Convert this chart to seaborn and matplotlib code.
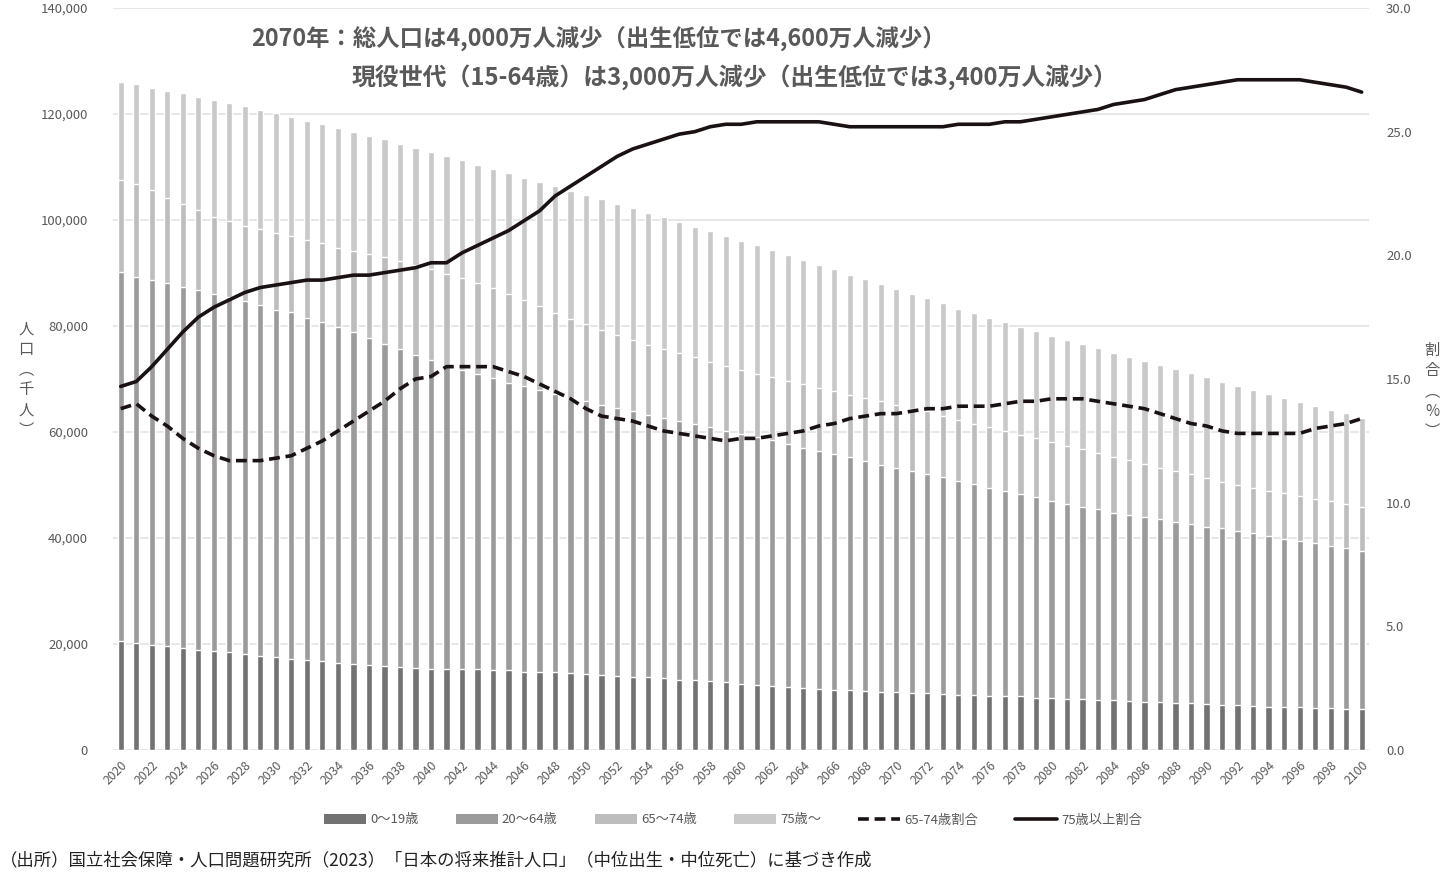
import numpy as np
import pandas as pd
import matplotlib
matplotlib.use("Agg")
import matplotlib.pyplot as plt
from matplotlib.patches import Patch
from matplotlib.lines import Line2D
from matplotlib.ticker import FuncFormatter
import seaborn as sns

# Data (thousand persons / %)
years = list(range(2020, 2101))

pop_0_19 = [20600, 20200, 19900, 19600, 19200, 18900, 18700, 18400, 18100, 17800,
            17500, 17200, 17000, 16700, 16500, 16200, 16000, 15800, 15600, 15500,
            15300, 15300, 15200, 15200, 15000, 15000, 14800, 14700, 14700, 14500,
            14300, 14200, 14000, 13800, 13700, 13500, 13300, 13200, 13000, 12800,
            12500, 12200, 12000, 11900, 11700, 11500, 11400, 11300, 11100, 10900,
            10900, 10800, 10700, 10600, 10400, 10300, 10200, 10100, 10100, 9900,
            9800, 9700, 9600, 9400, 9400, 9200, 9100, 9000, 8900, 8800,
            8700, 8500, 8400, 8300, 8200, 8100, 8100, 8000, 7900, 7800, 7700]

pop_20_64 = [69500, 69000, 68800, 68500, 68100, 67900, 67300, 67000, 66700, 66200,
             65600, 65400, 64600, 64000, 63400, 62600, 61800, 60900, 60000, 59000,
             58200, 57200, 56500, 55700, 55100, 54300, 53900, 53200, 52500, 51800,
             51500, 50900, 50500, 50200, 49500, 49200, 48800, 48300, 47900, 47400,
             47100, 46900, 46500, 45800, 45300, 44900, 44400, 43900, 43400, 42900,
             42400, 41800, 41400, 40900, 40400, 39800, 39300, 38800, 38200, 37800,
             37200, 36700, 36300, 36000, 35400, 35100, 34800, 34500, 34100, 33800,
             33400, 33300, 32900, 32600, 32200, 31800, 31300, 31000, 30600, 30300, 29900]

pop_65_74 = [17400, 17600, 17000, 16100, 15700, 15000, 14600, 14500, 14100, 14300,
             14400, 14300, 14600, 14900, 14900, 15400, 15800, 16300, 16700, 17000,
             17200, 17400, 17400, 17300, 17000, 16800, 16300, 15900, 15300, 15000,
             14500, 14100, 13800, 13400, 13300, 13000, 12800, 12600, 12400, 12300,
             12100, 11900, 11800, 11900, 12000, 11900, 11900, 11800, 12000, 12000,
             11800, 11800, 11800, 11600, 11500, 11400, 11400, 11300, 11200, 11100,
             11200, 11000, 10900, 10700, 10500, 10400, 10100, 9800, 9600, 9400,
             9300, 8800, 8700, 8500, 8500, 8500, 8500, 8400, 8500, 8300, 8300]

pop_75_over = [18600, 18800, 19300, 20200, 20900, 21500, 22000, 22200, 22600, 22500,
               22600, 22500, 22500, 22500, 22600, 22500, 22300, 22200, 22100, 22100,
               22200, 22200, 22200, 22200, 22500, 22700, 23000, 23400, 23900, 24200,
               24400, 24700, 24800, 24800, 24800, 24800, 24700, 24600, 24600, 24500,
               24400, 24200, 24000, 23800, 23500, 23200, 23000, 22700, 22300, 22100,
               21900, 21600, 21300, 21200, 21000, 21000, 20700, 20600, 20400, 20300,
               20000, 20000, 19800, 19700, 19700, 19500, 19400, 19300, 19300, 19100,
               18900, 18900, 18700, 18600, 18300, 18100, 17800, 17500, 17200, 17100, 16700]

share_65_74 = [13.8, 14.0, 13.5, 13.1, 12.6, 12.2, 11.9, 11.7, 11.7, 11.7,
               11.8, 11.9, 12.2, 12.5, 12.9, 13.3, 13.7, 14.1, 14.6, 15.0,
               15.1, 15.5, 15.5, 15.5, 15.5, 15.3, 15.1, 14.8, 14.5, 14.2,
               13.8, 13.5, 13.4, 13.3, 13.1, 12.9, 12.8, 12.7, 12.6, 12.5,
               12.6, 12.6, 12.7, 12.8, 12.9, 13.1, 13.2, 13.4, 13.5, 13.6,
               13.6, 13.7, 13.8, 13.8, 13.9, 13.9, 13.9, 14.0, 14.1, 14.1,
               14.2, 14.2, 14.2, 14.1, 14.0, 13.9, 13.8, 13.6, 13.4, 13.2,
               13.1, 12.9, 12.8, 12.8, 12.8, 12.8, 12.8, 13.0, 13.1, 13.2, 13.4]

share_75_over = [14.7, 14.9, 15.5, 16.2, 16.9, 17.5, 17.9, 18.2, 18.5, 18.7,
                 18.8, 18.9, 19.0, 19.0, 19.1, 19.2, 19.2, 19.3, 19.4, 19.5,
                 19.7, 19.7, 20.1, 20.4, 20.7, 21.0, 21.4, 21.8, 22.4, 22.8,
                 23.2, 23.6, 24.0, 24.3, 24.5, 24.7, 24.9, 25.0, 25.2, 25.3,
                 25.3, 25.4, 25.4, 25.4, 25.4, 25.4, 25.3, 25.2, 25.2, 25.2,
                 25.2, 25.2, 25.2, 25.2, 25.3, 25.3, 25.3, 25.4, 25.4, 25.5,
                 25.6, 25.7, 25.8, 25.9, 26.1, 26.2, 26.3, 26.5, 26.7, 26.8,
                 26.9, 27.0, 27.1, 27.1, 27.1, 27.1, 27.1, 27.0, 26.9, 26.8, 26.6]

labels_bar = ["0〜19歳", "20〜64歳", "65〜74歳", "75歳〜"]
labels_line = ["65-74歳割合", "75歳以上割合"]
colors_bar = ["#727272", "#9b9b9b", "#bdbdbd", "#c9c9c9"]
line_color = "#1a1212"
text_gray = "#595959"

sns.set_theme(style="white")
plt.rcParams["font.family"] = ["Noto Sans CJK JP", "DejaVu Sans"]

df = pd.DataFrame({
    "year": years,
    labels_bar[0]: pop_0_19,
    labels_bar[1]: pop_20_64,
    labels_bar[2]: pop_65_74,
    labels_bar[3]: pop_75_over,
})
cum = df[labels_bar].cumsum(axis=1)

fig = plt.figure(figsize=(14.43, 8.73), dpi=100)
ax = fig.add_axes([0.0783, 0.1409, 0.8707, 0.8499])

# stacked bars: draw cumulative heights from the top segment down
for lab, col in reversed(list(zip(labels_bar, colors_bar))):
    sns.barplot(x=df["year"], y=cum[lab], color=col, saturation=1, width=0.4,
                ax=ax, zorder=2)

ax.set_xlim(-0.5, len(years) - 0.5)
ax.set_ylim(0, 140000)
ax.set_yticks(range(0, 140001, 20000))
ax.yaxis.set_major_formatter(FuncFormatter(lambda v, p: f"{int(v):,}"))
ax.yaxis.grid(True, color="#e3e3e3", linewidth=1.2, zorder=0)
ax.set_axisbelow(True)
ax.set_xlabel("")
ax.set_ylabel("")
ax.set_xticks(range(0, len(years), 2))
ax.set_xticklabels([str(y) for y in years[::2]], rotation=45, ha="right",
                   va="top", rotation_mode="anchor")
ax.tick_params(axis="x", length=0, pad=6, labelsize=8.8, labelcolor=text_gray)
ax.tick_params(axis="y", length=0, pad=18, labelsize=9.5, labelcolor=text_gray)
for s in ax.spines.values():
    s.set_visible(False)

ax2 = ax.twinx()
x_idx = np.arange(len(years))
sns.lineplot(x=x_idx, y=share_65_74, ax=ax2, color=line_color, linewidth=2.6,
             linestyle=(0, (3, 1.6)))
sns.lineplot(x=x_idx, y=share_75_over, ax=ax2, color=line_color, linewidth=2.6)
ax2.set_ylim(0, 30)
ax2.set_yticks(np.arange(0, 30.1, 5))
ax2.yaxis.set_major_formatter(FuncFormatter(lambda v, p: f"{v:.1f}"))
ax2.tick_params(axis="y", length=0, pad=12, labelsize=9.5, labelcolor=text_gray)
ax2.set_ylabel("")
for s in ax2.spines.values():
    s.set_visible(False)

# axis titles (vertical)
fig.text(0.018, 0.565, "人\n口\n︵\n千\n人\n︶", ha="center", va="center",
         fontsize=11, color=text_gray, linespacing=1.25)
fig.text(0.9925, 0.552, "割\n合\n︵\n%\n︶", ha="center", va="center",
         fontsize=11, color=text_gray, linespacing=1.25)

# headline annotation
fig.text(251 / 1443, 1 - 38 / 873, "2070年：総人口は4,000万人減少（出生低位では4,600万人減少）",
         ha="left", va="center", fontsize=16.8, fontweight="bold", color=text_gray)
fig.text(352 / 1443, 1 - 77 / 873, "現役世代（15-64歳）は3,000万人減少（出生低位では3,400万人減少）",
         ha="left", va="center", fontsize=17.2, fontweight="bold", color=text_gray)

# legend
handles = [Patch(facecolor=c, edgecolor="none") for c in colors_bar]
handles += [Line2D([0], [0], color=line_color, lw=2.6, linestyle=(0, (3, 1.6))),
            Line2D([0], [0], color=line_color, lw=2.6)]
leg = fig.legend(handles, labels_bar + labels_line, loc="center",
                 bbox_to_anchor=(733 / 1443, 1 - 820 / 873), ncol=6, frameon=False,
                 fontsize=9.5, handlelength=3.2, handleheight=0.7, handletextpad=0.3,
                 columnspacing=2.8)
for t in leg.get_texts():
    t.set_color(text_gray)

fig.text(0.0, 1 - 860 / 873,
         "（出所）国立社会保障・人口問題研究所（2023）「日本の将来推計人口」（中位出生・中位死亡）に基づき作成",
         ha="left", va="center", fontsize=12.5, color="#222222")

fig.savefig("out.png", dpi=100)
